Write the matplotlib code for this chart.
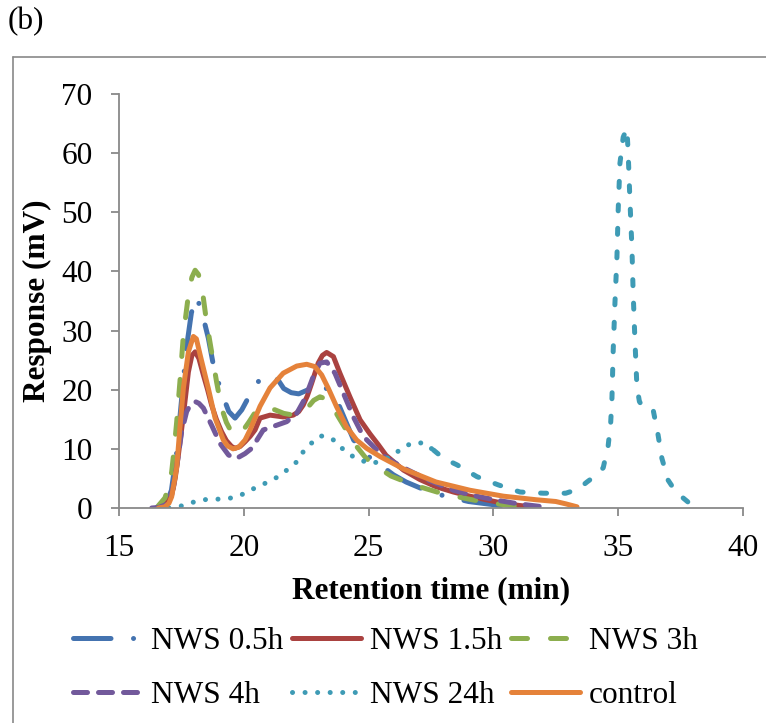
import matplotlib
matplotlib.use("Agg")
import matplotlib.pyplot as plt
from matplotlib.lines import Line2D

# ---------------------------------------------------------------------------
# data
# ---------------------------------------------------------------------------
x_05h = [16.6, 16.9, 17.1, 17.3, 17.5, 17.7, 17.9, 18.1, 18.3, 18.58, 18.78, 19.0,
         19.2, 19.4, 19.65, 19.92, 20.2, 20.45, 20.65, 21.05, 21.38, 21.6, 21.9,
         22.2, 22.58, 22.92, 23.2, 23.45, 23.72, 24.0, 24.4, 24.9, 25.46, 26.0,
         26.5, 27.06, 27.7, 28.4, 29.0, 29.74, 30.4, 31.07]
y_05h = [0, 0.8, 3, 9, 18, 27, 33, 35.7, 33.5, 28.7, 24.2, 21, 18.5, 16.3, 15.2,
         16.6, 18.8, 20.3, 21.9, 22.5, 21.6, 20.2, 19.5, 19.3, 20, 21.1, 20.8,
         19.4, 18.3, 15.5, 11.5, 9, 7.3, 5.6, 4.4, 3.4, 2.4, 1.7, 1.1, 0.7, 0.35, 0.1]

x_15h = [16.5, 16.71, 16.9, 17.11, 17.25, 17.38, 17.58, 17.78, 17.92, 18.05, 18.2,
         18.38, 18.55, 18.71, 18.9, 19.11, 19.3, 19.51, 19.65, 19.85, 20.05, 20.25,
         20.45, 20.65, 21.05, 21.58, 21.98, 22.2, 22.38, 22.55, 22.72, 22.98, 23.15,
         23.32, 23.59, 23.85, 24.25, 24.66, 25.06, 25.39, 25.7, 26.4, 27.06, 27.7,
         28.4, 29.06, 29.7, 30.4, 31.0, 31.6]
y_15h = [0, 0.2, 0.8, 2.2, 5, 9, 15.7, 23, 25.8, 26.4, 25.3, 22.5, 20, 17.4, 15,
         12.9, 11.4, 10.4, 10.1, 10.4, 11.2, 12.1, 13.2, 15.2, 15.7, 15.4, 15.7,
         16.3, 17.4, 19, 21.1, 24.5, 25.8, 26.3, 25.6, 22.8, 18.8, 14.9, 12.5,
         10.7, 8.9, 6.4, 4.8, 3.6, 2.7, 2.0, 1.4, 0.8, 0.45, 0.15]

x_3h = [16.5, 16.84, 16.98, 17.11, 17.21, 17.31, 17.44, 17.58, 17.78, 17.92, 18.05,
        18.18, 18.31, 18.51, 18.71, 18.91, 19.11, 19.3, 19.51, 19.7, 19.9, 20.2,
        20.52, 20.98, 21.25, 21.6, 21.98, 22.3, 22.58, 22.8, 23.05, 23.39, 23.79,
        24.19, 24.52, 24.9, 25.32, 25.9, 26.8, 27.9, 28.9, 29.5, 30.5, 31.1]
y_3h = [0, 1.7, 3.5, 6.1, 10, 14.5, 21.3, 29.3, 36, 39, 40.2, 39.5, 37.7, 31.4,
        26.4, 21.3, 16.9, 14.5, 12.8, 12.3, 12.7, 14.5, 16.6, 16.9, 16.6, 16,
        15.7, 16.3, 17.1, 18.2, 18.8, 18.3, 15.4, 12.6, 10.4, 8.4, 7.0, 5.4, 3.9,
        2.5, 1.6, 1.1, 0.5, 0.2]

x_4h = [16.31, 16.6, 16.84, 17.0, 17.18, 17.38, 17.51, 17.71, 17.88, 18.05, 18.2,
        18.38, 18.71, 19.05, 19.38, 19.58, 19.8, 20.05, 20.32, 20.78, 21.32, 21.72,
        22.12, 22.45, 22.78, 23.05, 23.32, 23.65, 23.99, 24.39, 24.79, 25.26, 25.7,
        26.4, 27.4, 28.4, 29.2, 30.1, 31.0, 32.0]
y_4h = [0, 0.1, 0.5, 1.5, 3.4, 9.0, 12.9, 16.3, 17.6, 18.0, 17.7, 16.9, 14.0,
        10.9, 9.0, 8.4, 8.6, 9.2, 10.1, 13.2, 14.0, 14.6, 16, 18.5, 22.2, 24.5,
        24.7, 22.8, 19.4, 15.4, 12.1, 10.1, 8.5, 6.8, 4.7, 3.0, 2.1, 1.35, 0.7, 0.2]

# NWS 24h: early part drawn as round dots, late part as short dashes
x_24h_a = [17.0, 17.38, 17.84, 18.25, 18.71, 19.18, 19.65, 20.05, 20.45, 20.92,
           21.38, 21.72, 22.12, 22.38, 22.72, 23.08, 23.52, 23.85, 24.25, 24.66,
           25.12, 25.6, 26.0, 26.34, 26.74, 27.2, 27.6]
y_24h_a = [0, 0.2, 0.8, 1.35, 1.5, 1.5, 1.8, 2.5, 3.4, 4.3, 5.3, 6.4, 7.8, 9.5,
           11.0, 12.2, 11.8, 10.4, 9.0, 8.1, 7.5, 8.1, 9.0, 10.1, 11.0, 11.0, 9.8]
x_24h_b = [27.6, 28.0, 28.54, 29.34, 30.2, 31.07, 32.0, 32.9, 33.4, 33.75, 34.1,
           34.4, 34.6, 34.7, 34.75, 34.8, 34.87, 34.95, 35.0, 35.07, 35.2, 35.35,
           35.4, 35.47, 35.55, 35.6, 35.67, 35.75, 35.85, 36.0, 36.2, 36.4, 36.6,
           36.75, 37.0, 37.3, 37.6, 37.8]
y_24h_b = [9.8, 8.4, 7.3, 5.3, 3.9, 2.7, 2.5, 2.5, 3.2, 4.4, 5.5, 6.8, 10.6, 14.5,
           18.6, 26.7, 34.7, 42.5, 50.4, 58.3, 62.7, 64.2, 60, 52, 44, 36.3, 28.4,
           20.5, 18, 17, 16.8, 16.6, 12.3, 8.4, 4.7, 2.8, 1.7, 1.0]

x_ctrl = [16.58, 16.84, 17.0, 17.11, 17.31, 17.44, 17.58, 17.78, 17.98, 18.1, 18.25,
          18.58, 18.85, 19.18, 19.35, 19.57, 19.8, 20.05, 20.25, 20.45, 20.65,
          21.05, 21.58, 22.12, 22.52, 22.85, 23.12, 23.39, 23.72, 24.12, 24.52,
          24.92, 25.46, 26.4, 27.7, 29.06, 30.4, 31.7, 32.5, 32.9, 33.35]
y_ctrl = [0, 0.2, 0.8, 1.9, 6.8, 13.5, 20.3, 26.4, 29.0, 28.6, 25.9, 20.2, 15.2,
          11.5, 10.5, 10.0, 10.3, 11.5, 13.2, 15.2, 17.2, 20.3, 22.8, 24.0, 24.3,
          23.9, 22.5, 20.2, 17.1, 13.7, 11.5, 10.1, 8.7, 6.6, 4.4, 3.0, 2.0, 1.4,
          1.1, 0.7, 0.2]

labels = ["NWS 0.5h", "NWS 1.5h", "NWS 3h", "NWS 4h", "NWS 24h", "control"]
x_ticks = [15, 20, 25, 30, 35, 40]
y_ticks = [0, 10, 20, 30, 40, 50, 60, 70]

# ---------------------------------------------------------------------------
# style
# ---------------------------------------------------------------------------
C_BLUE, C_RED, C_GREEN = '#4473B0', '#AA4240', '#8CAE4E'
C_PURPLE, C_TEAL, C_ORANGE = '#72599B', '#3E9BB5', '#E5823A'
GRAY = '#898989'
LW = 3.6
FS = 22.5

plt.rcParams.update({
    "font.family": ["Liberation Serif", "DejaVu Serif"],
    "font.size": FS,
    "lines.solid_capstyle": "round",
    "lines.dash_capstyle": "round",
})

fig = plt.figure(figsize=(7.66, 7.23), dpi=100)
W, H = 766, 723
ax = fig.add_axes([119 / W, 1 - 508 / H, 624 / W, 414 / H])

l_05, = ax.plot(x_05h, y_05h, color=C_BLUE, lw=LW, dashes=(7.5, 4.5, 0.01, 4.5))
l_15, = ax.plot(x_15h, y_15h, color=C_RED, lw=LW)
l_3, = ax.plot(x_3h, y_3h, color=C_GREEN, lw=LW, dashes=(3.2, 4.6))
l_4, = ax.plot(x_4h, y_4h, color=C_PURPLE, lw=LW, dashes=(2.8, 2.2))
l_24, = ax.plot(x_24h_a, y_24h_a, color=C_TEAL, lw=LW, dashes=(0.01, 2.5))
ax.plot(x_24h_b, y_24h_b, color=C_TEAL, lw=LW, dashes=(1.2, 3.5))
l_c, = ax.plot(x_ctrl, y_ctrl, color=C_ORANGE, lw=LW)

ax.set_xlim(15, 40)
ax.set_ylim(0, 70)
ax.set_xticks(x_ticks)
ax.set_yticks(y_ticks)
for s in ("top", "right"):
    ax.spines[s].set_visible(False)
for s in ("left", "bottom"):
    ax.spines[s].set_color(GRAY)
    ax.spines[s].set_linewidth(1.3)
ax.tick_params(direction='out', length=6, width=1.3, color=GRAY,
               labelsize=FS, pad=13)

ax.set_xlabel("Retention time (min)", fontweight='bold', fontsize=FS)
ax.set_ylabel("Response (mV)", fontweight='bold', fontsize=FS)
ax.xaxis.set_label_coords(0.5, -0.165)
ax.yaxis.set_label_coords(-0.108, 0.5)

# legend is row-major in the reference; matplotlib fills columns first
order = [l_05, l_4, l_15, l_24, l_3, l_c]
order_labels = [labels[0], labels[3], labels[1], labels[4], labels[2], labels[5]]
fig.legend(order, order_labels, ncol=3, loc='center',
           bbox_to_anchor=(0.503, 0.075), frameon=False, fontsize=FS,
           handlelength=2.2, handletextpad=0.3, columnspacing=0.28,
           labelspacing=0.8, borderpad=0)

# outer frame (cropped at right and bottom) and panel tag
fig.add_artist(Line2D([12.5 / W, 12.5 / W], [0, 1 - 57 / H],
                      transform=fig.transFigure, color=GRAY, lw=1.2))
fig.add_artist(Line2D([12.5 / W, 1], [1 - 57 / H, 1 - 57 / H],
                      transform=fig.transFigure, color=GRAY, lw=1.2))
fig.text(8 / W, 1 - 22 / H, "(b)", fontsize=FS, va='center', ha='left')

fig.savefig("out.png", dpi=100)
